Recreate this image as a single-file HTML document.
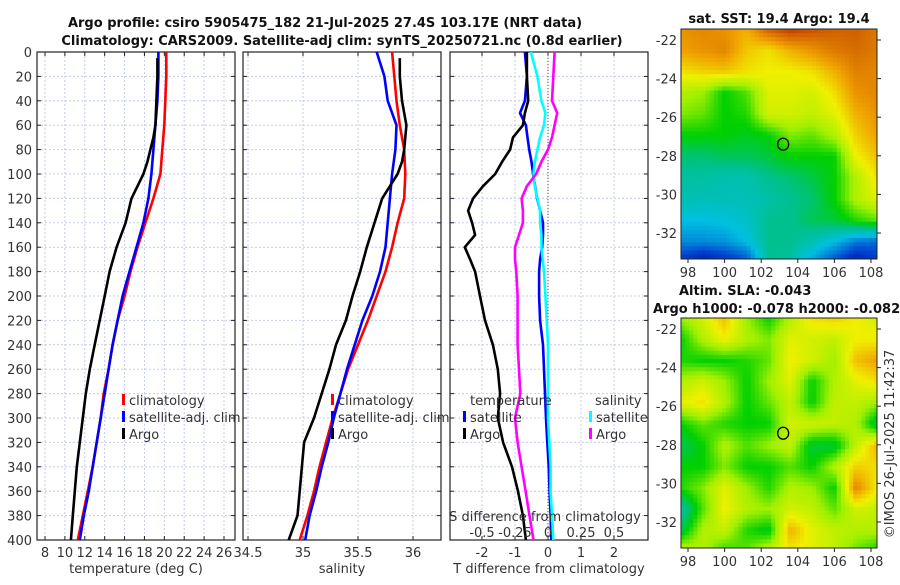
<!DOCTYPE html>
<html><head><meta charset="utf-8"><style>
body{margin:0;background:#fff;width:900px;height:580px;overflow:hidden}
svg{font-family:"DejaVu Sans","Liberation Sans",sans-serif}
</style></head><body>
<svg id="s" width="900" height="580" viewBox="0 0 900 580"></svg>
<script>
// ---- data ----
const depths=[0,20,40,60,80,100,120,140,160,180,200,220,240,260,280,300,320,340,360,380,400];
const tempClim=[20.2,20.2,20.1,20.0,19.8,19.6,18.9,18.1,17.3,16.6,16.0,15.3,14.8,14.4,13.9,13.6,13.2,12.8,12.3,11.8,11.3];
const tempSat=[19.4,19.4,19.3,19.1,18.9,18.7,18.4,17.9,17.2,16.5,15.8,15.3,14.8,14.4,14.0,13.6,13.2,12.8,12.4,11.9,11.5];
const argoDepths=[5,20,40,60,70,80,90,100,110,120,140,160,180,200,220,240,260,280,300,320,340,360,380,400];
const tempArgo=[19.3,19.3,19.2,19.1,18.9,18.6,18.3,17.9,17.3,16.7,16.1,15.2,14.5,14.0,13.5,13.0,12.5,12.1,11.8,11.5,11.2,11.0,10.8,10.6];
const salClim=[35.81,35.83,35.85,35.88,35.92,35.93,35.92,35.86,35.81,35.75,35.67,35.59,35.50,35.41,35.34,35.27,35.21,35.15,35.10,35.04,34.97];
const salSat=[35.67,35.74,35.77,35.85,35.84,35.81,35.79,35.77,35.75,35.70,35.63,35.54,35.47,35.40,35.34,35.28,35.23,35.17,35.12,35.06,35.02];
const salArgo=[35.88,35.88,35.90,35.94,35.93,35.92,35.90,35.86,35.79,35.72,35.65,35.58,35.52,35.45,35.39,35.30,35.24,35.17,35.10,35.01,34.99,34.97,34.95,34.87];
const dDepths=[0,20,40,50,60,70,80,90,100,110,120,130,140,150,160,170,180,200,220,240,260,280,300,320,340,360,380,400];
const dTSat=[-0.7,-0.64,-0.7,-0.85,-0.67,-0.62,-0.57,-0.5,-0.45,-0.39,-0.33,-0.24,-0.15,-0.15,-0.18,-0.24,-0.27,-0.27,-0.24,-0.15,-0.12,-0.09,-0.06,-0.02,0.02,0.05,0.08,0.1];
const dSSat=[-0.13,-0.08,-0.05,-0.02,-0.03,-0.06,-0.08,-0.1,-0.11,-0.1,-0.08,-0.06,-0.06,-0.05,-0.05,-0.04,-0.03,-0.02,-0.01,0,0,0,0,0.01,0.02,0.02,0.03,0.04];
const dSArgo=[0.05,0.04,0.03,0.07,0.05,0.03,0,-0.05,-0.09,-0.16,-0.2,-0.19,-0.19,-0.22,-0.25,-0.25,-0.24,-0.23,-0.23,-0.23,-0.22,-0.21,-0.25,-0.23,-0.2,-0.17,-0.14,-0.11];
const dTArgo=[-0.64,-0.64,-0.6,-0.7,-0.76,-1.06,-1.15,-1.39,-1.6,-1.97,-2.27,-2.42,-2.3,-2.21,-2.52,-2.36,-2.21,-2.06,-1.91,-1.67,-1.52,-1.45,-1.52,-1.36,-1.09,-0.91,-0.76,-0.67];
const tTicks=[8,10,12,14,16,18,20,22,24,26];
const sTicks=[34.5,35,35.5,36];
const dTicks=[-2,-1,0,1,2];
const dTickLabels=["-2","-1","0","1","2"];
const dSTicks=[-0.5,-0.25,0,0.25,0.5];
const yTicks=[0,20,40,60,80,100,120,140,160,180,200,220,240,260,280,300,320,340,360,380,400];
const lonTicks=[98,100,102,104,106,108];
const latTicks=[-22,-24,-26,-28,-30,-32];
const sstGrid=[
[0.82,0.84,0.82,0.78,0.9,0.95,0.92,0.9,0.9,0.86],
[0.8,0.82,0.84,0.75,0.72,0.78,0.82,0.86,0.88,0.86],
[0.72,0.74,0.75,0.72,0.7,0.7,0.72,0.78,0.85,0.84],
[0.62,0.6,0.5,0.55,0.68,0.68,0.66,0.72,0.82,0.84],
[0.58,0.56,0.5,0.52,0.66,0.66,0.64,0.68,0.78,0.82],
[0.5,0.5,0.5,0.48,0.5,0.58,0.56,0.62,0.74,0.8],
[0.42,0.42,0.44,0.44,0.46,0.5,0.5,0.5,0.7,0.76],
[0.38,0.38,0.36,0.36,0.4,0.42,0.45,0.5,0.62,0.72],
[0.36,0.35,0.35,0.35,0.37,0.4,0.42,0.5,0.62,0.68],
[0.3,0.3,0.31,0.33,0.4,0.4,0.44,0.46,0.52,0.56],
[0.24,0.24,0.25,0.3,0.4,0.4,0.36,0.3,0.22,0.2],
[0.12,0.05,0.1,0.15,0.4,0.38,0.25,0.15,0.06,0.12]];
const slaGrid=[
[0.6,0.66,0.76,0.6,0.5,0.62,0.72,0.74,0.7,0.66],
[0.5,0.62,0.7,0.62,0.58,0.68,0.66,0.64,0.7,0.7],
[0.52,0.5,0.5,0.52,0.56,0.7,0.66,0.6,0.76,0.8],
[0.62,0.66,0.6,0.5,0.6,0.68,0.5,0.62,0.68,0.72],
[0.68,0.72,0.62,0.5,0.56,0.64,0.5,0.64,0.64,0.6],
[0.5,0.56,0.52,0.5,0.5,0.66,0.66,0.64,0.62,0.44],
[0.44,0.5,0.62,0.55,0.6,0.64,0.46,0.46,0.64,0.78],
[0.5,0.5,0.58,0.5,0.5,0.55,0.5,0.62,0.74,0.72],
[0.52,0.58,0.68,0.6,0.52,0.62,0.6,0.5,0.84,0.7],
[0.36,0.55,0.7,0.62,0.6,0.66,0.64,0.56,0.66,0.64],
[0.45,0.62,0.64,0.52,0.48,0.78,0.68,0.64,0.62,0.62],
[0.66,0.62,0.52,0.56,0.66,0.7,0.68,0.64,0.56,0.5]];
const argoLon=103.2, argoLat=-27.4;

// ---- helpers ----
const NS="http://www.w3.org/2000/svg", S=document.getElementById('s');
function el(t,a,p){const e=document.createElementNS(NS,t);for(const k in a)e.setAttribute(k,a[k]);(p||S).appendChild(e);return e;}
function txt(x,y,s,a,p){const e=el('text',Object.assign({x:x,y:y,'font-size':13,fill:'#333'},a||{}),p);e.textContent=s;return e;}
const Y0=52,Y1=540; const yS=d=>Y0+d*(Y1-Y0)/400;
const tX=t=>45+(t-8)*179/18;
const sX=s=>303+(s-35)*110;
const dX=v=>548+v*33;
const dSX=v=>548+v*132;

function panel(name,x0,x1,xt,labels,xfun,xlabel,showY){
  const g=el('g',{});  
  yTicks.forEach(d=>{el('line',{x1:x0,x2:x1,y1:yS(d),y2:yS(d),stroke:'#c4cce8','stroke-width':1,'stroke-dasharray':'2,2'},g);
    el('line',{x1:x0,x2:x0+4,y1:yS(d),y2:yS(d),stroke:'#222'},g);el('line',{x1:x1-4,x2:x1,y1:yS(d),y2:yS(d),stroke:'#222'},g);
    if(showY){const t=txt(32,yS(d)+5,String(d),{'text-anchor':'end'},g);}});
  xt.forEach((v,i)=>{const x=xfun(v);el('line',{x1:x,x2:x,y1:Y0,y2:Y1,stroke:'#c4cce8','stroke-width':1,'stroke-dasharray':'2,2'},g);
    el('line',{x1:x,x2:x,y1:Y1-4,y2:Y1,stroke:'#222'},g);el('line',{x1:x,x2:x,y1:Y0,y2:Y0+4,stroke:'#222'},g);
    const t=txt(x,557,labels[i],{'text-anchor':'middle'},g);});
  el('rect',{x:x0,y:Y0,width:x1-x0,height:Y1-Y0,fill:'none',stroke:'#222','stroke-width':1.2},g);
  const xl=txt((x0+x1)/2,573,xlabel,{'text-anchor':'middle'},g);
  return g;
}
function line(g,xs,ds,xf,col,name){const p=xs.map((v,i)=>xf(v).toFixed(1)+','+yS(ds[i]).toFixed(1)).join(' ');
  const e=el('polyline',{points:p,fill:'none',stroke:col,'stroke-width':2.6,'stroke-linejoin':'round'},g);
  }
function legend(g,x,y,items){items.forEach((it,i)=>{el('rect',{x:x,y:y+i*17-11,width:3,height:11,fill:it[1]},g);
  const t=txt(x+7,y+i*17,it[0],{},g);});}

// titles
const t1=txt(325,27,'Argo profile: csiro 5905475_182 21-Jul-2025 27.4S 103.17E (NRT data)',{'text-anchor':'middle','font-weight':'bold','fill':'#111'});

const t2=txt(342,45,'Climatology: CARS2009. Satellite-adj clim: synTS_20250721.nc (0.8d earlier)',{'text-anchor':'middle','font-weight':'bold','fill':'#111'});


// panel 1
const g1=panel('temperature-panel',37,235,tTicks,tTicks.map(String),tX,'temperature (deg C)',true);
line(g1,tempClim,depths,tX,'#ff0000','temp-climatology-line');
line(g1,tempSat,depths,tX,'#0000ff','temp-satellite-line');
line(g1,tempArgo,argoDepths,tX,'#000','temp-argo-line');
legend(g1,122,405,[['climatology','#ff0000'],['satellite-adj. clim','#0000ff'],['Argo','#000']]);
// panel 2
const g2=panel('salinity-panel',243,441,sTicks,sTicks.map(String),sX,'salinity',false);
line(g2,salClim,depths,sX,'#ff0000','sal-climatology-line');
line(g2,salSat,depths,sX,'#0000ff','sal-satellite-line');
line(g2,salArgo,argoDepths,sX,'#000','sal-argo-line');
legend(g2,331,405,[['climatology','#ff0000'],['satellite-adj. clim','#0000ff'],['Argo','#000']]);
// panel 3
const g3=panel('difference-panel',450,648,dTicks,dTickLabels,dX,'T difference from climatology',false);
el('line',{x1:dX(0),x2:dX(0),y1:Y0,y2:Y1,stroke:'#555','stroke-dasharray':'1,2'},g3);
line(g3,dTSat,dDepths,dX,'#0000ff','dT-satellite-line');
line(g3,dSSat,dDepths,dSX,'#00ffff','dS-satellite-line');
line(g3,dSArgo,dDepths,dSX,'#ff00ff','dS-argo-line');
line(g3,dTArgo,dDepths,dX,'#000','dT-argo-line');
txt(470,405,'temperature',{},g3);
legend(g3,463,422,[['satellite','#0000ff'],['Argo','#000']]);
txt(595,405,'salinity',{},g3);
legend(g3,589,422,[['satellite','#00ffff'],['Argo','#ff00ff']]);
const sl=txt(545,521,'S difference from climatology',{'text-anchor':'middle'},g3);
dSTicks.forEach(v=>{const t=txt(dSX(v),537,String(v),{'text-anchor':'middle'},g3);});

// maps
const stops=[[0,[0,0,139]],[0.15,[0,64,208]],[0.3,[0,192,224]],[0.4,[0,192,144]],[0.5,[0,208,0]],[0.6,[160,240,0]],[0.7,[240,240,0]],[0.8,[240,160,0]],[0.9,[208,96,0]],[1,[160,16,0]]];
function cmap(v){for(let i=1;i<stops.length;i++){if(v<=stops[i][0]){const a=stops[i-1],b=stops[i],f=(v-a[0])/(b[0]-a[0]);
  return 'rgb('+a[1].map((c,k)=>Math.round(c+(b[1][k]-c)*f)).join(',')+')';}}return 'rgb(160,16,0)';}
function map(name,grid,x0,y0,lat22y,titles){
  const W=196,H=230,g=el('g',{});
  const lonX=l=>688+(l-98)*18.3, latY=l=>lat22y+(-22-l)*19.3;
  const cs=4.1,nx=Math.ceil(W/cs),ny=Math.ceil(H/cs),R=grid.length,C=grid[0].length;
  for(let j=0;j<ny;j++)for(let i=0;i<nx;i++){
    const fy=(j+0.5)/ny*(R-1),fx=(i+0.5)/nx*(C-1),r=Math.floor(fy),c=Math.floor(fx),dy=fy-r,dx=fx-c;
    const r2=Math.min(r+1,R-1),c2=Math.min(c+1,C-1);
    const v=grid[r][c]*(1-dx)*(1-dy)+grid[r][c2]*dx*(1-dy)+grid[r2][c]*(1-dx)*dy+grid[r2][c2]*dx*dy;
    el('rect',{x:(x0+i*cs).toFixed(1),y:(y0+j*cs).toFixed(1),width:cs+0.4,height:cs+0.4,fill:cmap(v)},g);}
  el('rect',{x:x0+W,y:y0,width:30,height:H+5,fill:'#fff'},g);
  el('rect',{x:x0,y:y0+H,width:W+2,height:6,fill:'#fff'},g);
  el('rect',{x:x0,y:y0,width:W,height:H,fill:'none',stroke:'#222','stroke-width':1},g);
  latTicks.forEach(l=>{const y=latY(l);el('line',{x1:x0+W,x2:x0+W+4,y1:y,y2:y,stroke:'#222'},g);
    const t=txt(x0-4,y+5,String(l),{'text-anchor':'end'},g);});
  lonTicks.forEach(l=>{const x=lonX(l);el('line',{x1:x,x2:x,y1:y0+H,y2:y0+H+4,stroke:'#222'},g);
    const t=txt(x,y0+H+18,String(l),{'text-anchor':'middle'},g);});
  const m=el('ellipse',{cx:lonX(argoLon),cy:latY(argoLat),rx:5.5,ry:6,fill:'none',stroke:'#000','stroke-width':1.3},g);
  
  titles.forEach(tt=>{const t=txt(tt[0],tt[1],tt[2],{'text-anchor':tt[3],'font-weight':'bold',fill:'#111'},g);});
}
map('sst-map',sstGrid,681,29,40,[[779,23,'sat. SST: 19.4 Argo: 19.4','middle']]);
map('sla-map',slaGrid,681,318,329,[[679,295,'Altim. SLA: -0.043','start'],[653,313,'Argo h1000: -0.078 h2000: -0.082','start']]);
const ts=txt(0,0,'©IMOS 26-Jul-2025 11:42:37',{'text-anchor':'middle',transform:'translate(894,444) rotate(-90)'});

</script>
</body></html>
